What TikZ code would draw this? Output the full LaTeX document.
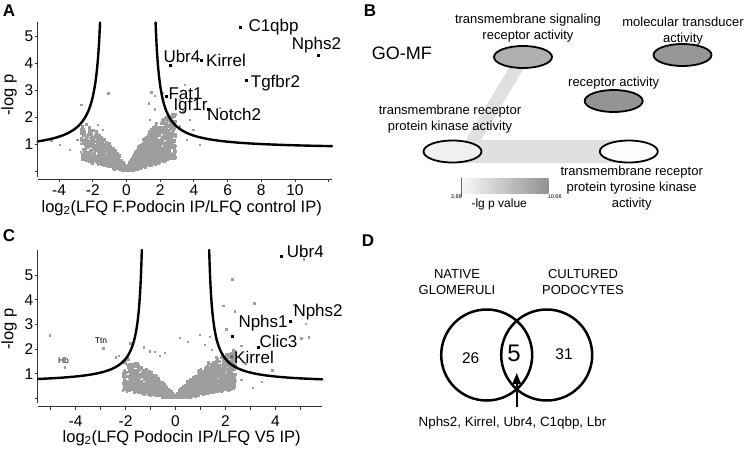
\documentclass[tikz,border=0pt]{standalone}
\usepackage{fontspec}
\setmainfont{Liberation Sans}
\usetikzlibrary{arrows.meta,shapes.geometric}
\definecolor{ptgray}{RGB}{158,158,158}
\definecolor{bandgray}{RGB}{224,224,224}
\definecolor{fillA}{RGB}{175,175,175}
\definecolor{fillB}{RGB}{150,150,150}
\definecolor{fillC}{RGB}{148,148,148}
\definecolor{fillD}{RGB}{240,240,240}
\definecolor{fillE}{RGB}{252,252,252}
\definecolor{lgA}{RGB}{248,248,248}
\definecolor{lgB}{RGB}{145,145,145}
\newcommand{\fs}[1]{\fontsize{#1}{#1}\selectfont}
\begin{document}
\begin{tikzpicture}[x=1pt,y=-1pt,
  panel/.style={font=\fs{17}\bfseries, inner sep=0},
  glabel/.style={anchor=west, inner sep=0, font=\fs{17}},
  smlabel/.style={inner sep=0, font=\fs{8.5}},
  ticklab/.style={inner sep=0, font=\fs{15.5}},
  axtitle/.style={inner sep=0, font=\fs{16.5}},
  axisline/.style={line width=0.9pt, draw=black!80},
  curve/.style={line width=2.4pt, black, line cap=round},
  goell/.style={ellipse, draw, line width=1.8pt, minimum width=58pt, minimum height=22pt, inner sep=0},
  golab/.style={align=center, font=\fontsize{13}{16}\selectfont, inner sep=0},
  band/.style={draw=bandgray, line cap=round},
  venn/.style={circle, draw, line width=2.5pt, minimum size=91pt, inner sep=0},
  vlab/.style={align=center, font=\fontsize{13}{16}\selectfont, inner sep=0},
  gpt/.style={fill=ptgray},
  bpt/.style={fill=black}
]
\useasboundingbox (0,0) rectangle (748,451);

% ================= Panel A =================
\node[panel] (labA) at (9,11) {A};
\pgfmathsetseed{7}
\foreach \i in {1,...,1300}{
  \pgfmathsetmacro\xx{2.9*pow(rnd,1.5)}
  \pgfmathsetmacro\lo{0.17*\xx}
  \pgfmathsetmacro\hi{1.45*\xx/(1+0.3*\xx)}
  \pgfmathsetmacro\yy{max(0.01,\lo+(\hi-\lo)*pow(rnd,1.3)+0.08*rand)}
  \fill[gpt] ({126.5+16.85*\xx-1.4},{171-27*\yy-1.4}) rectangle ++(2.8,2.8);
}
\foreach \i in {1,...,650}{
  \pgfmathsetmacro\xx{2.7*pow(rnd,1.5)}
  \pgfmathsetmacro\lo{0.17*\xx}
  \pgfmathsetmacro\hi{1.4*\xx/(1+0.4*\xx)}
  \pgfmathsetmacro\yy{max(0.01,\lo+(\hi-\lo)*pow(rnd,1.3)+0.08*rand)}
  \fill[gpt] ({126.5-16.85*\xx-1.4},{171-27*\yy-1.4}) rectangle ++(2.8,2.8);
}
\foreach \px/\py in {108.3/93.3, 81.7/105, 77.3/140, 51.7/140.7, 151.7/92.7, 155/96, 185/85, 180/100, 163/93, 220/108, 149/103.3, 155/109.3, 180/106.7, 183.3/111.7, 190/120, 193.3/130, 176/121.7, 180/126.7, 163.3/136.7, 170/141.7, 158.3/153.3, 161.7/158.3, 92/132, 70/150, 60/145, 172/118, 167/128, 187/140, 200/145, 176/146, 98/125, 103/130, 86/138, 150/120, 158/128}{
  \fill[gpt] (\px-1.4,\py-1.4) rectangle ++(2.8,2.8);
}
\draw[curve] plot[domain=-1.139:1.394, samples=70, smooth, variable=\t] ({126.5-16.85*(1.25+exp(\t))},{171-27*(1.531*exp(-\t)+0.716)});
\draw[curve] plot[domain=-1.285:2.375, samples=80, smooth, variable=\t] ({126.5+16.85*(1.45+exp(\t))},{171-27*(1.3*exp(-\t)+0.8)});
\draw[axisline] (37.7,21.7) -- (37.7,176.7);
\draw[axisline] (37.7,179) -- (331.7,179);
\foreach \v in {0,...,5}{ \draw[axisline] (34.7,171-27*\v) -- (37.7,171-27*\v); }
\foreach \v in {1,...,5}{ \node[ticklab, anchor=east] (ayt\v) at (33.5,171-27*\v) {\v}; }
\foreach \v in {-4,-2,...,12}{ \draw[axisline] ({126.5+16.85*\v},179) -- ({126.5+16.85*\v},182); }
\foreach \v in {-4,-2,...,10}{ \node[ticklab] (axt\v) at ({126.5+16.85*\v},190.5) {\v}; }
\node[axtitle] (axA) at (181.7,208) {log\textsubscript{2}(LFQ F.Podocin IP/LFQ control IP)};
\node[axtitle, rotate=90] (ayA) at (9,95) {-log p};
\fill[bpt] (240-1.5,27.7-1.5) rectangle ++(3,3);
\fill[bpt] (318.3-1.5,55-1.5) rectangle ++(3,3);
\fill[bpt] (170-1.5,65-1.5) rectangle ++(3,3);
\fill[bpt] (201-1.5,60.7-1.5) rectangle ++(3,3);
\fill[bpt] (246-1.5,80-1.5) rectangle ++(3,3);
\fill[bpt] (166-1.5,96-1.5) rectangle ++(3,3);
\fill[bpt] (208-1.5,109-1.5) rectangle ++(3,3);
\node[glabel] (aC1qbp) at (248.3,26.7) {C1qbp};
\node[glabel] (aNphs2) at (291.7,45) {Nphs2};
\node[glabel] (aUbr4) at (163.3,56.7) {Ubr4};
\node[glabel] (aKirrel) at (206,60.5) {Kirrel};
\node[glabel] (aTgfbr2) at (250.7,82.7) {Tgfbr2};
\node[glabel] (aFat1) at (168.3,93.5) {Fat1};
\node[glabel] (aIgf1r) at (173.3,106.5) {Igf1r};
\node[glabel] (aNotch2) at (207,114.5) {Notch2};

% ================= Panel C =================
\node[panel] (labC) at (9,236) {C};
\pgfmathsetseed{11}
\foreach \i in {1,...,1300}{
  \pgfmathsetmacro\xx{2.4*pow(rnd,1.5)}
  \pgfmathsetmacro\lo{0.17*\xx}
  \pgfmathsetmacro\hi{1.6*\xx/(1+0.4*\xx)}
  \pgfmathsetmacro\yy{max(0.01,\lo+(\hi-\lo)*pow(rnd,1.3)+0.08*rand)}
  \fill[gpt] ({175.5+25*\xx-1.4},{398.3-24.6*\yy-1.4}) rectangle ++(2.8,2.8);
}
\foreach \i in {1,...,750}{
  \pgfmathsetmacro\xx{2.1*pow(rnd,1.5)}
  \pgfmathsetmacro\lo{0.17*\xx}
  \pgfmathsetmacro\hi{1.5*\xx/(1+0.4*\xx)}
  \pgfmathsetmacro\yy{max(0.01,\lo+(\hi-\lo)*pow(rnd,1.3)+0.08*rand)}
  \fill[gpt] ({175.5-25*\xx-1.4},{398.3-24.6*\yy-1.4}) rectangle ++(2.8,2.8);
}
\foreach \px/\py in {232.7/279.3, 254.3/303.3, 294.3/305, 306/324, 309/337.7, 304/259.3, 223.3/306, 235/311.7, 226.7/329.3, 241.3/346, 245.7/363.3, 272.7/370.7, 241.7/380, 50/335.7, 103.3/348.3, 65/367.7, 116/357.3, 119/356, 130.7/343.3, 126/363.3, 144/347.3, 200/335, 301.7/338.3, 210/337, 216/340, 188/342, 180/338, 150/351.7, 165/353, 253/388, 262/382, 228/372, 220/366, 155/352, 160/356, 205/345, 212/350}{
  \fill[gpt] (\px-1.4,\py-1.4) rectangle ++(2.8,2.8);
}
\draw[curve] plot[domain=-1.915:1.459, samples=70, smooth, variable=\t] ({175.5-25*(1.2+exp(\t))},{398.3-24.6*(0.8*exp(-\t)+0.6)});
\draw[curve] plot[domain=-1.915:1.541, samples=70, smooth, variable=\t] ({175.5+25*(1.2+exp(\t))},{398.3-24.6*(0.8*exp(-\t)+0.6)});
\draw[axisline] (37.7,250) -- (37.7,403);
\draw[axisline] (37.7,406.7) -- (322.3,406.7);
\foreach \v in {0,...,5}{ \draw[axisline] (34.7,398.3-24.6*\v) -- (37.7,398.3-24.6*\v); }
\foreach \v in {1,...,5}{ \node[ticklab, anchor=east] (cyt\v) at (33.5,398.3-24.6*\v) {\v}; }
\foreach \v in {-5,...,5}{ \draw[axisline] ({175.5+25*\v},406.7) -- ({175.5+25*\v},409.7); }
\foreach \v in {-4,-2,...,4}{ \node[ticklab] (cxt\v) at ({175.5+25*\v},421.5) {\v}; }
\node[axtitle] (axC) at (181.7,438) {log\textsubscript{2}(LFQ Podocin IP/LFQ V5 IP)};
\node[axtitle, rotate=90] (ayC) at (9,329) {-log p};
\fill[bpt] (281.7-1.5,256-1.5) rectangle ++(3,3);
\fill[bpt] (290.7-1.5,321-1.5) rectangle ++(3,3);
\fill[bpt] (232.3-1.5,336.7-1.5) rectangle ++(3,3);
\fill[bpt] (258.3-1.5,347.3-1.5) rectangle ++(3,3);
\fill[black!60] (231-1.5,356-1.5) rectangle ++(3,3);
\node[glabel] (cUbr4) at (286.7,251) {Ubr4};
\node[glabel] (cNphs2) at (293.3,312.3) {Nphs2};
\node[glabel] (cNphs1) at (238.3,323.3) {Nphs1};
\node[glabel] (cClic3) at (259.3,341) {Clic3};
\node[glabel] (cKirrel) at (234,357.7) {Kirrel};
\node[smlabel] (cHb) at (63.5,360.5) {Hb};
\node[smlabel] (cTtn) at (101,340.5) {Ttn};

% ================= Panel B =================
\node[panel] (labB) at (370,11) {B};
\node[anchor=west, inner sep=0, font=\fs{18}] (gomf) at (371.7,53) {GO-MF};
\coordinate (c1) at (523,57);
\coordinate (c2) at (682.5,55);
\coordinate (c3) at (613.7,101);
\coordinate (c4) at (452.5,151.5);
\coordinate (c5) at (628.8,151.5);
\draw[band, line width=13pt] (c1) -- ([xshift=14pt]c4);
\draw[band, line width=23pt] (c4) -- (c5);
\node[goell, fill=fillA] (e1) at (c1) {};
\node[goell, fill=fillB] (e2) at (c2) {};
\node[goell, fill=fillC] (e3) at (c3) {};
\node[goell, fill=fillD] (e4) at (c4) {};
\node[goell, fill=fillE] (e5) at (c5) {};
\node[golab] (l1) at (528,28) {transmembrane signaling\\receptor activity};
\node[golab] (l2) at (683,31) {molecular transducer\\activity};
\node[golab] (l3) at (613.7,83.3) {receptor activity};
\node[golab] (l4) at (450,119.5) {transmembrane receptor\\protein kinase activity};
\node[golab] (l5) at (631.7,188.2) {transmembrane receptor\\protein tyrosine kinase\\activity};
\shade[left color=lgA, right color=lgB] (461.7,178.3) rectangle (548.3,193.3);
\draw[line width=0.6pt, black!60] (461.7,178.3) -- (461.7,196.7);
\node[inner sep=0, font=\fs{5.5}] (lmin) at (456.3,196.5) {3.66};
\node[inner sep=0, font=\fs{5.5}] (lmax) at (554.7,196.5) {10.66};
\node[inner sep=0, font=\fs{12}] (ltitle) at (499.2,204) {-lg p value};

% ================= Panel D =================
\node[panel] (labD) at (368,241) {D};
\node[venn] (vl) at (486.7,355) {};
\node[venn] (vr) at (546.7,355) {};
\node[vlab] (nat) at (457,282.3) {NATIVE\\GLOMERULI};
\node[vlab] (cul) at (583,282.3) {CULTURED\\PODOCYTES};
\node[inner sep=0, font=\fs{15.5}] (n26) at (470.7,357.7) {26};
\node[inner sep=0, font=\fs{24}] (n5) at (514,353.3) {5};
\node[inner sep=0, font=\fs{15.5}] (n31) at (564,354.3) {31};
\node[inner sep=0, font=\fs{13.4}] (genes) at (512.5,423.3) {Nphs2, Kirrel, Ubr4, C1qbp, Lbr};
\coordinate (tail) at (516.7,407);
\coordinate (tip) at (516.7,373);
\draw[line width=1.6pt, -{Triangle[width=8.5pt,length=11pt]}] (tail) -- (tip);
\end{tikzpicture}
\end{document}
